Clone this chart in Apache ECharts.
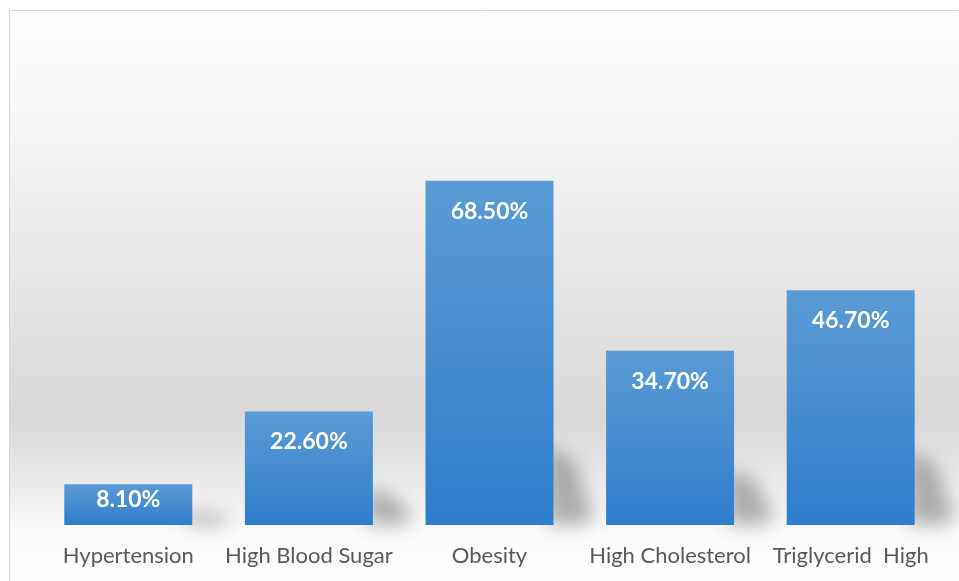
<!DOCTYPE html>
<html>
<head>
<meta charset="utf-8">
<script src="https://cdn.jsdelivr.net/npm/echarts@6/dist/echarts.min.js"></script>
<style>
  html, body { margin: 0; padding: 0; background: #fff; }
  #chart { width: 959px; height: 581px; }
</style>
</head>
<body>
<div id="chart"></div>
<script>
const categories = ['Hypertension', 'High Blood Sugar', 'Obesity', 'High Cholesterol', 'Triglycerid  High'];
const values = [8.1, 22.6, 68.5, 34.7, 46.7];

const chart = echarts.init(document.getElementById('chart'));

const barColor = new echarts.graphic.LinearGradient(0, 0, 0, 1, [
    { offset: 0, color: '#5b9bd5' },
    { offset: 1, color: '#2f7dcb' },
]);

// soft floor shadow to the right of each bar's foot
// (shape drawn off-canvas, only its blurred shadow is shifted back in)
const OFF = 3000;
const renderShadow = (params, api) => {
    const base = api.coord([api.value(0), 0]);
    const top = api.coord([api.value(0), api.value(1)]);
    const x = base[0] + 64 - OFF;
    const h = Math.min((base[1] - top[1]) * 0.32, 80);
    return {
        type: 'polygon',
        shape: {
            points: [
                [x - 6, base[1]],
                [x - 6, base[1] - h],
                [x + 20, base[1] - h * 0.8],
                [x + 40, base[1] - 8],
                [x + 30, base[1]],
            ],
        },
        style: {
            fill: '#000',
            shadowBlur: 18,
            shadowOffsetX: OFF,
            shadowColor: 'rgba(70,70,70,0.4)',
        },
    };
};

const option = {
    animation: false,
    graphic: [
        {
            type: 'rect',
            z: -10,
            silent: true,
            shape: { x: 9.5, y: 10.5, width: 960, height: 580 },
            style: {
                fill: new echarts.graphic.LinearGradient(0, 0, 0, 1, [
                    { offset: 0, color: '#ffffff' },
                    { offset: 0.3, color: '#f0f0f0' },
                    { offset: 0.7, color: '#d8d8d8' },
                    { offset: 0.78, color: '#e4e4e4' },
                    { offset: 0.9, color: '#fbfbfb' },
                    { offset: 1, color: '#ffffff' },
                ]),
                stroke: '#d9d9d9',
                lineWidth: 1,
            },
        },
    ],
    grid: {
        left: 38,
        right: 18,
        top: 123,
        bottom: 56,
    },
    xAxis: {
        type: 'category',
        data: categories,
        axisLine: { show: false },
        axisTick: { show: false },
        axisLabel: {
            interval: 0,
            color: '#595959',
            fontFamily: 'Lato',
            fontSize: 22,
            margin: 20,
        },
    },
    yAxis: {
        type: 'value',
        min: 0,
        max: 80,
        show: false,
        splitLine: { show: false },
    },
    series: [
        {
            type: 'custom',
            renderItem: renderShadow,
            data: values.map((v, i) => [i, v]),
            z: 1,
            silent: true,
        },
        {
            type: 'bar',
            data: values.map((v, i) =>
                i === 0 ? { value: v, label: { distance: 4 } } : v,
            ),
            barWidth: 128,
            z: 2,
            itemStyle: { color: barColor },
            label: {
                show: true,
                position: 'insideTop',
                distance: 19,
                color: '#ffffff',
                fontFamily: 'Lato',
                fontWeight: 'bold',
                fontSize: 23,
                formatter: (p) => p.value.toFixed(2) + '%',
            },
        },
    ],
};

chart.setOption(option);
</script>
</body>
</html>
